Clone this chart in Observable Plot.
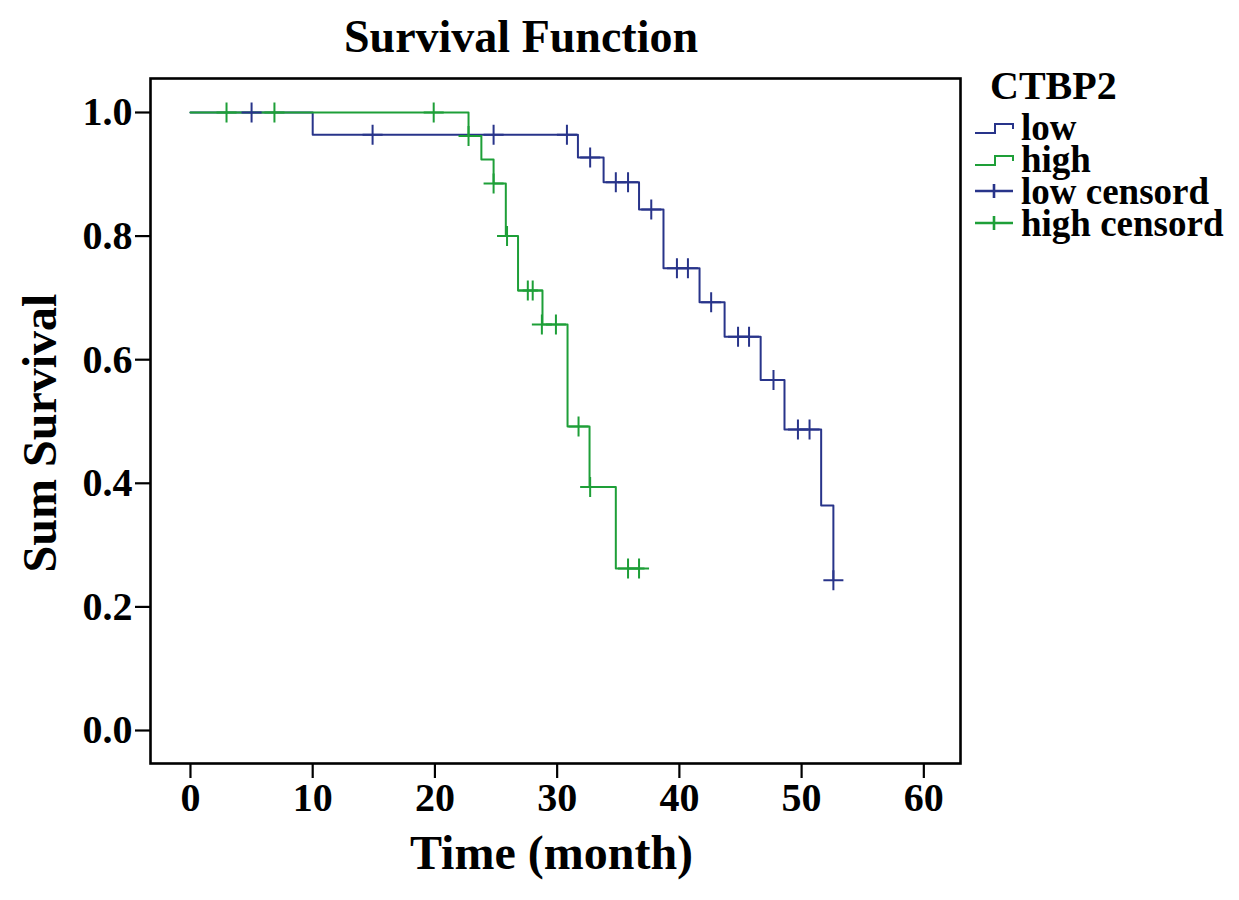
<!DOCTYPE html>
<html>
<head>
<meta charset="utf-8">
<script src="https://cdn.jsdelivr.net/npm/d3@7"></script>
<script src="https://cdn.jsdelivr.net/npm/@observablehq/plot@0.6"></script>
<style>
  body { margin: 0; background: #fff; }
  #wrap { position: relative; width: 1239px; height: 900px; font-family: "Liberation Serif", "Times New Roman", serif; font-weight: bold; color: #000; }
  #title { position: absolute; left: 271px; width: 500px; top: 14px; text-align: center; font-size: 46px; line-height: 46px; }
  #legend { position: absolute; left: 973px; top: 66px; }
  #legend .head { font-size: 40px; line-height: 40px; height: 40px; margin-bottom: 5px; padding-left: 17px; }
  #legend .row { display: flex; align-items: center; height: 32px; font-size: 37px; }
  #legend .row span { display: inline-block; height: 30px; line-height: 32px; overflow: visible; }
  #legend .row svg { flex: none; margin-right: 6px; }
</style>
</head>
<body>
<div id="wrap">
  <div id="chart"></div>
  <div id="title">Survival Function</div>
  <div id="legend"></div>
</div>
<script>
// ---- data ----
const lowTimes = [0, 10.0, 31.7, 33.8, 36.7, 38.7, 41.65, 43.7, 46.65, 48.6, 51.6, 52.6];
const lowSurv  = [1.0, 0.964, 0.927, 0.887, 0.843, 0.748, 0.693, 0.637, 0.567, 0.487, 0.364, 0.243];

const highTimes = [0, 22.75, 23.8, 24.8, 25.8, 26.8, 28.8, 30.85, 32.65, 34.8, 37.1];
const highSurv  = [1.0, 0.962, 0.924, 0.885, 0.800, 0.712, 0.657, 0.492, 0.394, 0.262, 0.262];

const lowCensorTimes = [5.0, 14.9, 24.8, 30.8, 32.7, 34.8, 35.8, 37.7, 39.8, 40.7, 42.6, 44.8, 45.7, 47.7, 49.7, 50.65, 52.6];
const lowCensorSurv  = [1.0, 0.964, 0.964, 0.964, 0.927, 0.887, 0.887, 0.843, 0.748, 0.748, 0.693, 0.637, 0.637, 0.567, 0.487, 0.487, 0.243];

const highCensorTimes = [2.95, 6.87, 19.9, 22.75, 24.8, 25.9, 27.6, 28.0, 28.75, 29.9, 31.75, 32.7, 35.8, 36.7];
const highCensorSurv  = [1.0, 1.0, 1.0, 0.962, 0.885, 0.800, 0.712, 0.712, 0.657, 0.657, 0.492, 0.394, 0.262, 0.262];

const xTicks = [0, 10, 20, 30, 40, 50, 60];
const yTicks = [0.0, 0.2, 0.4, 0.6, 0.8, 1.0];

const groups = ["low", "high"];
const legendLabels = ["low", "high", "low censord", "high censord"];
const legendTitle = "CTBP2";
const xLabel = "Time (month)";
const yLabel = "Sum Survival";

// ---- build tables ----
const curves = [
  ...lowTimes.map((t, i) => ({group: "low", time: t, surv: lowSurv[i]})),
  ...highTimes.map((t, i) => ({group: "high", time: t, surv: highSurv[i]}))
];
const censors = [
  ...lowCensorTimes.map((t, i) => ({group: "low", time: t, surv: lowCensorSurv[i]})),
  ...highCensorTimes.map((t, i) => ({group: "high", time: t, surv: highCensorSurv[i]}))
];

const BLUE = "#28348a";
const GREEN = "#1e9f38";
const colorRange = [BLUE, GREEN];

const chart = Plot.plot({
  width: 1239,
  height: 900,
  marginTop: 78,
  marginBottom: 137,
  marginLeft: 150,
  marginRight: 279,
  style: {fontFamily: "Liberation Serif, Times New Roman, serif", fontWeight: "bold", fontSize: "40px", color: "#000", background: "transparent"},
  x: {domain: [-3.27, 63.0]},
  y: {domain: [-0.0534, 1.055]},
  color: {domain: groups, range: colorRange},
  marks: [
    Plot.frame({stroke: "#000", strokeWidth: 2.6}),
    Plot.axisY({ticks: yTicks, tickFormat: d3.format(".1f"), tickSize: 15, tickPadding: 3, strokeWidth: 2.2, label: null, fontSize: 40}),
    Plot.axisX({ticks: xTicks, tickSize: 15, tickPadding: 4, strokeWidth: 2.2, label: null, fontSize: 40}),
    Plot.line(curves, {x: "time", y: "surv", z: "group", stroke: "group", curve: "step-after", strokeWidth: 2}),
    Plot.dot(censors, {x: "time", y: "surv", stroke: "group", symbol: "plus", r: 6.5, strokeWidth: 2}),
    Plot.text([yLabel], {frameAnchor: "left", textAnchor: "middle", rotate: -90, dx: -110, dy: 12, fontSize: 48, fontWeight: "bold"}),
    Plot.text([xLabel], {frameAnchor: "bottom", textAnchor: "middle", dy: 105, dx: -4, fontSize: 48, fontWeight: "bold"})
  ]
});
document.getElementById("chart").appendChild(chart);

// ---- legend ----
const legend = document.getElementById("legend");
const head = document.createElement("div");
head.className = "head";
head.textContent = legendTitle;
legend.appendChild(head);
const swatchColors = [BLUE, GREEN, BLUE, GREEN];
legendLabels.forEach((lab, i) => {
  const row = document.createElement("div");
  row.className = "row";
  const c = swatchColors[i];
  const isStep = i < 2;
  const svgNS = "http://www.w3.org/2000/svg";
  const s = document.createElementNS(svgNS, "svg");
  s.setAttribute("width", 42);
  s.setAttribute("height", 32);
  const p = document.createElementNS(svgNS, "path");
  if (isStep) {
    p.setAttribute("d", "M2,22 H22 V13 H40 V18");
    p.setAttribute("stroke-width", 2);
  } else {
    p.setAttribute("d", "M2,16 H40 M21,9 V23");
    p.setAttribute("stroke-width", 2.6);
  }
  p.setAttribute("stroke", c);
  p.setAttribute("fill", "none");
  s.appendChild(p);
  row.appendChild(s);
  const t = document.createElement("span");
  t.textContent = lab;
  row.appendChild(t);
  legend.appendChild(row);
});
</script>
</body>
</html>
